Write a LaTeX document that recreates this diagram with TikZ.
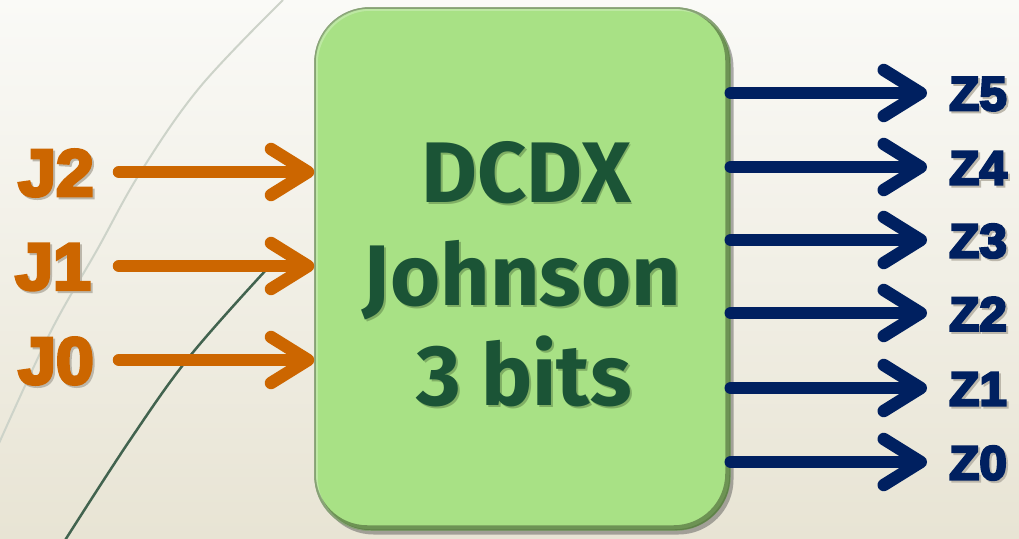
\documentclass[tikz,border=0pt]{standalone}
\usepackage{fontspec}
\setmainfont{Liberation Sans}
\newfontfamily\labelfont{Liberation Sans}[FakeStretch=1.03, FakeBold=5]
\newfontfamily\boxfont{Fira Sans}
\usetikzlibrary{arrows.meta,shadows}

\definecolor{bgtop}{HTML}{FAFAF7}
\definecolor{bgbot}{HTML}{E8E4D4}
\definecolor{boxgreen}{HTML}{A8E185}
\definecolor{boxrim}{HTML}{6F9A55}
\definecolor{boxedge}{HTML}{5A7A44}
\definecolor{textgreen}{HTML}{1B5436}
\definecolor{greenshade}{HTML}{7FAE64}
\definecolor{paleshade}{HTML}{BCB7AB}
\definecolor{inorange}{HTML}{CC6600}
\definecolor{outnavy}{HTML}{002060}
\definecolor{curvelight}{HTML}{CDD3C9}
\definecolor{curvedark}{HTML}{42634F}

% text with a soft cast shadow to the lower right
\newcommand\castshadow[2]{\leavevmode\rlap{\hspace{2pt}\raisebox{-2pt}{\color{#1}#2}}#2}

\tikzset{
  blockbox/.style={rounded corners=55pt, minimum width=415pt, minimum height=522pt,
    inner sep=0pt, fill=boxgreen, draw=boxrim, line width=1.5pt,
    drop shadow={shadow xshift=3.5pt, shadow yshift=-4.5pt, opacity=0.45, fill=black!70}},
  blocktext/.style={anchor=base, inner sep=0pt, text=textgreen,
    font=\boxfont\bfseries\fontsize{86}{86}\selectfont},
  inlabel/.style={inner sep=0pt, text=inorange,
    font=\labelfont\bfseries\fontsize{66}{66}\selectfont},
  outlabel/.style={inner sep=0pt, text=outnavy,
    font=\labelfont\bfseries\fontsize{48}{48}\selectfont},
  wire/.style={line width=12.5pt, line cap=round,
    -{Straight Barb[length=37pt, width=46pt, round]}},
  inwire/.style={wire, draw=inorange},
  outwire/.style={wire, draw=outnavy},
}

\begin{document}
\begin{tikzpicture}[x=1pt, y=-1pt]
\useasboundingbox (0,0) rectangle (1019,538);

% backdrop
\shade[top color=bgtop, bottom color=bgbot] (0,0) rectangle (1019,538);
\draw[curvelight, line width=2pt] plot[smooth, tension=0.6]
  coordinates {(283,0) (200,87) (140,173) (97,250) (50,333) (-4,450)};
\draw[curvedark, line width=2.5pt] plot[smooth, tension=0.6]
  coordinates {(266,270) (190,356) (130,440) (62,545)};

% the block, with a darker rim inside its lower right edge
\node[blockbox] (box) at (522.5,269) {};
\begin{scope}
  \clip[rounded corners=55pt] (box.south west) rectangle (box.north east);
  \draw[boxedge, line width=7pt, opacity=0.75, rounded corners=55pt]
    ([xshift=-2pt, yshift=2pt]box.south west) rectangle ([xshift=-2pt, yshift=2pt]box.north east);
  \draw[white, line width=4pt, opacity=0.25, rounded corners=55pt]
    ([xshift=1.5pt, yshift=-1.5pt]box.south west) rectangle ([xshift=1.5pt, yshift=-1.5pt]box.north east);
\end{scope}
\node[blocktext] (l1) at (526,202) {\castshadow{greenshade}{DCDX}};
\node[blocktext] (l2) at (522,305) {\castshadow{greenshade}{Johnson}};
\node[blocktext] (l3) at (524,405) {\castshadow{greenshade}{3 bits}};

% inputs
\node[inlabel] (j2) at (56,174) {\castshadow{paleshade}{J2}};
\node[inlabel] (j1) at (53,268) {\castshadow{paleshade}{J1}};
\node[inlabel] (j0) at (56,362) {\castshadow{paleshade}{J0}};
\foreach \n/\y in {j2/172, j1/266, j0/360}{
  \coordinate (\n s) at (119,\y);
  \draw[inwire] (\n s) -- (\n s -| box.west);
}

% outputs
\foreach \n/\y in {5/93, 4/167, 3/240, 2/313, 1/388, 0/462}{
  \node[outlabel] (z\n) at (978,\y+2) {\castshadow{paleshade}{Z\n}};
  \coordinate (z\n e) at (927,\y);
  \draw[outwire] (box.east |- z\n e) -- (z\n e);
}
\end{tikzpicture}
\end{document}
